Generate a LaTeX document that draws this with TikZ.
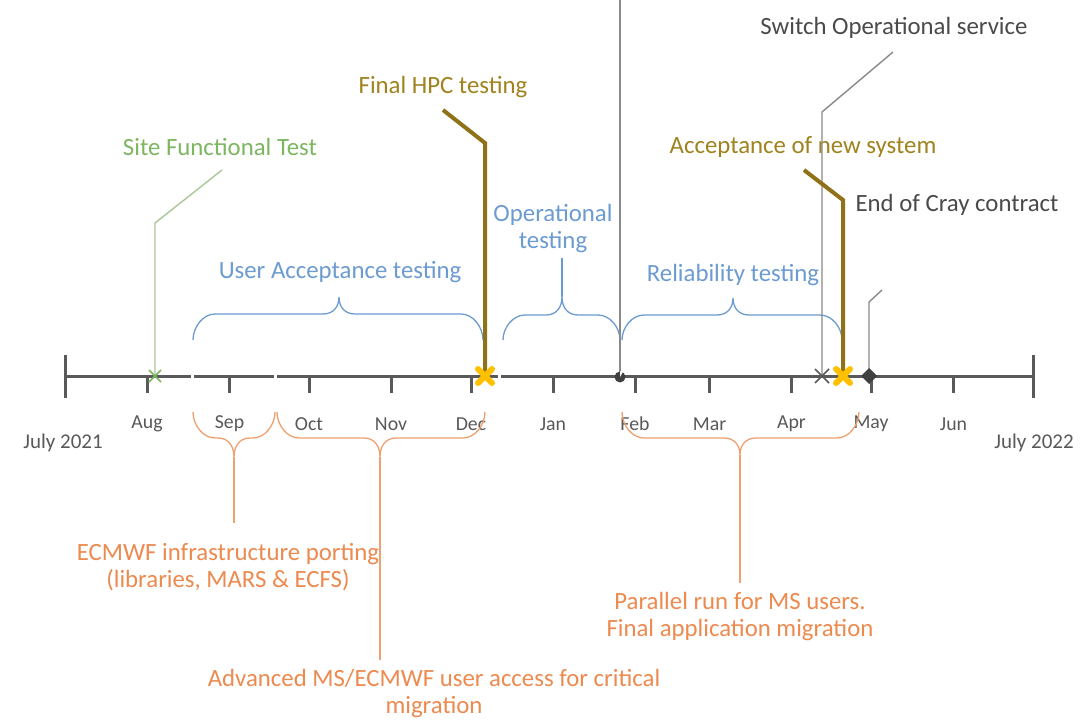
\documentclass[tikz,border=0pt]{standalone}
\usepackage{fontspec}
\setmainfont{Carlito}
\definecolor{axisc}{HTML}{595959}
\definecolor{bluec}{HTML}{6C9BD2}
\definecolor{orangec}{HTML}{EC8A4F}
\definecolor{obrace}{HTML}{EFA070}
\definecolor{greenc}{HTML}{7DB660}
\definecolor{gleader}{HTML}{A9C79A}
\definecolor{goldt}{HTML}{A0821E}
\definecolor{goldl}{HTML}{8F7118}
\definecolor{yelc}{HTML}{FFC000}
\definecolor{grayt}{HTML}{4A4A4A}
\definecolor{grayl}{HTML}{8A8A8A}
\definecolor{darkm}{HTML}{404040}
\newcommand\tlbrace[7]{%
\draw[#1] (#2,#5) .. controls (#2,{#6+0.5*(#5-#6)}) and ({#2+10},#6) .. ({#2+22},#6)
 -- ({#4-16},#6) .. controls ({#4-6},#6) and (#4,{#6+0.4*(#7-#6)}) .. (#4,#7)
 .. controls (#4,{#6+0.4*(#7-#6)}) and ({#4+6},#6) .. ({#4+16},#6)
 -- ({#3-22},#6) .. controls ({#3-10},#6) and (#3,{#6+0.5*(#5-#6)}) .. (#3,#5);}
\begin{document}
\begin{tikzpicture}[x=1pt,y=-1pt,
  lbl/.style={font=\fontsize{24.8}{27}\selectfont, inner sep=0pt, align=center},
  mon/.style={font=\fontsize{19.8}{22}\selectfont, text=axisc, inner sep=0pt},
  yrlbl/.style={font=\fontsize{21}{24}\selectfont, text=axisc, inner sep=0pt},
  axisline/.style={draw=axisc, line width=3pt},
  bbrace/.style={draw=bluec, line width=1.3pt},
  obr/.style={draw=obrace, line width=1.3pt},
  thinlead/.style={line width=1.4pt},
  goldlead/.style={draw=goldl, line width=4pt},
  bigx/.style={draw=yelc, line width=6pt, line cap=round}]
\useasboundingbox (0,0) rectangle (1084,722);
\fill[white] (0,0) rectangle (1084,722);
% axis
\coordinate (L) at (65,376);
\coordinate (R) at (1033,376);
\draw[axisline] (L) -- (R);
\draw[axisline] (65,355) -- (65,398);
\draw[axisline] (1033,355) -- (1033,398);
\foreach \x/\m in {147/Aug,229.5/Sep,309/Oct,391/Nov,471/Dec,553/Jan,635/Feb,709.5/Mar,791.5/Apr,871/May,953.5/Jun}{
  \draw[axisline] (\x,376) -- (\x,393);
  \node[mon] (m\m) at (\x,424) {\m};
}
\node[yrlbl] (y21) at (63,443) {July 2021};
\node[yrlbl] (y22) at (1034,443) {July 2022};
\foreach \x in {192,275,499}{\fill[white] (\x-1.5,372) rectangle (\x+1.5,380);}
% blue braces
\tlbrace{bbrace}{193}{483}{339}{340}{314}{297}
\tlbrace{bbrace}{503}{620}{562}{340}{315}{297}
\tlbrace{bbrace}{622}{842}{733}{340}{315}{298}
\coordinate (optip) at (562,297);
\coordinate (opend) at (562,258);
\draw[bbrace] (optip) -- (opend);
\node[lbl, text=bluec] (uat) at (340,272) {User Acceptance testing};
\node[lbl, text=bluec] (opt) at (553,229) {Operational\\testing};
\node[lbl, text=bluec] (rel) at (733,275) {Reliability testing};
% orange braces
\tlbrace{obr}{193}{275}{234}{412}{438}{457}
\tlbrace{obr}{277}{485}{380}{412}{438}{457}
\tlbrace{obr}{622}{859}{740}{412}{438}{455}
\coordinate (ot1) at (234,457); \coordinate (oe1) at (234,523);
\coordinate (ot2) at (380,457); \coordinate (oe2) at (380,660);
\coordinate (ot3) at (740,455); \coordinate (oe3) at (740,583);
\draw[obr] (ot1) -- (oe1);
\draw[obr] (ot2) -- (oe2);
\draw[obr] (ot3) -- (oe3);
\node[lbl, text=orangec] (ecm) at (228,567) {ECMWF infrastructure porting\\(libraries, MARS \& ECFS)};
\node[lbl, text=orangec] (adv) at (434,694) {Advanced MS/ECMWF user access for critical\\migration};
\node[lbl, text=orangec] (par) at (740,617) {Parallel run for MS users.\\Final application migration};
% milestone labels
\node[lbl, text=greenc] (site) at (220,147) {Site Functional Test};
\node[lbl, text=goldt] (hpc) at (443,87) {Final HPC testing};
\node[lbl, text=grayt] (sw) at (894,28) {Switch Operational service};
\node[lbl, text=goldt] (acc) at (803,147) {Acceptance of new system};
\node[lbl, text=grayt] (cray) at (957,205) {End of Cray contract};
% marker points
\coordinate (mk1) at (155,376);
\coordinate (mk2) at (485,376);
\coordinate (mk3) at (620,377);
\coordinate (mk4) at (822,376);
\coordinate (mk5) at (843,376);
\coordinate (mk6) at (869,376);
% leaders
\coordinate (b1) at (155,223); \coordinate (e1) at (222,170);
\coordinate (b2) at (485,143); \coordinate (e2) at (443,110);
\coordinate (t3) at (620,0);
\coordinate (b4) at (822,112); \coordinate (e4) at (893,52);
\coordinate (b5) at (843,200); \coordinate (e5) at (804,170);
\coordinate (b6) at (869,302); \coordinate (e6) at (882,290);
\draw[thinlead, draw=gleader] (mk1) -- (b1) -- (e1);
\draw[goldlead] (mk2) -- (b2) -- (e2);
\draw[thinlead, draw=grayl] (mk3) -- (t3);
\draw[thinlead, draw=grayl] (mk4) -- (b4) -- (e4);
\draw[goldlead] (mk5) -- (b5) -- (e5);
\draw[thinlead, draw=grayl] (mk6) -- (b6) -- (e6);
% markers
\draw[greenc, line width=1.6pt] ([shift={(-6,-6)}]mk1) -- ([shift={(6,6)}]mk1) ([shift={(-6,6)}]mk1) -- ([shift={(6,-6)}]mk1);
\draw[bigx] ([shift={(-7,-7)}]mk2) -- ([shift={(7,7)}]mk2) ([shift={(-7,7)}]mk2) -- ([shift={(7,-7)}]mk2);
\fill[darkm] (mk3) circle (5.5);
\fill[white] (mk3) -- ++(0,-5.5) arc[start angle=90, end angle=20, radius=5.5] -- cycle;
\draw[axisc, line width=1.6pt] ([shift={(-7,-7)}]mk4) -- ([shift={(7,7)}]mk4) ([shift={(-7,7)}]mk4) -- ([shift={(7,-7)}]mk4);
\draw[bigx] ([shift={(-7,-7)}]mk5) -- ([shift={(7,7)}]mk5) ([shift={(-7,7)}]mk5) -- ([shift={(7,-7)}]mk5);
\fill[darkm] ([shift={(0,-8)}]mk6) -- ([shift={(8,0)}]mk6) -- ([shift={(0,8)}]mk6) -- ([shift={(-8,0)}]mk6) -- cycle;
\end{tikzpicture}
\end{document}
